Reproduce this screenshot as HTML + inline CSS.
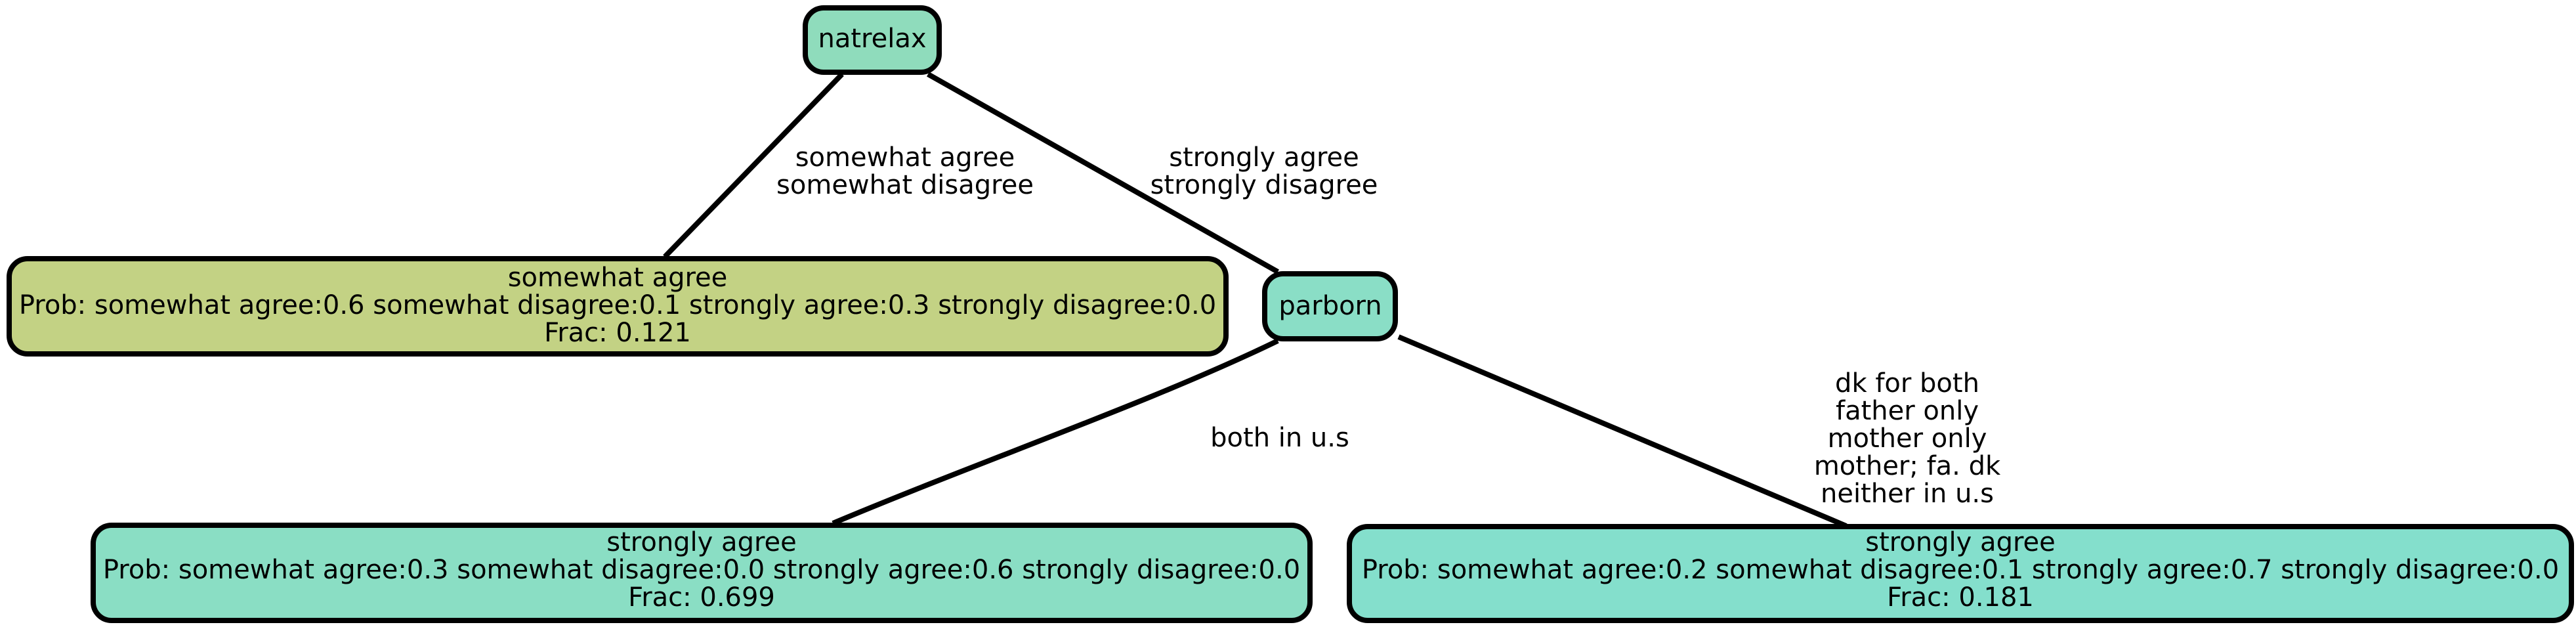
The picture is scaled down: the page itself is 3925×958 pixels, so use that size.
<!DOCTYPE html>
<html><head><meta charset="utf-8"><style>
html,body{margin:0;padding:0;background:#fff;}
svg{display:block;}
text{font-family:"DejaVu Sans","Liberation Sans",sans-serif;font-size:40px;fill:#000;text-anchor:middle;}
</style></head><body>
<svg width="3925" height="958" viewBox="0 0 3925 958" xmlns="http://www.w3.org/2000/svg">
<g stroke="#000" stroke-width="8" fill="none">
<path d="M1283,113 L1013,391"/>
<path d="M1414,113 L1947,414"/>
<path d="M1947,519 C1760,610 1500,700 1269,797"/>
<path d="M2131,513 L2813,801"/>
</g>
<g stroke="#000" stroke-width="8">
<rect x="1227" y="12" width="204" height="98" rx="28" fill="#8fdcbc"/>
<rect x="14" y="394" width="1854" height="145" rx="28" fill="#c3d284"/>
<rect x="1927" y="417" width="199" height="99" rx="28" fill="#8adec6"/>
<rect x="142" y="800" width="1854" height="145" rx="28" fill="#8adec4"/>
<rect x="2056" y="802" width="1862" height="143" rx="28" fill="#84dfcc"/>
</g>
<text x="1329" y="72">natrelax</text>
<text x="2027" y="479">parborn</text>
<text x="941" y="436">somewhat agree</text>
<text x="941" y="478">Prob: somewhat agree:0.6 somewhat disagree:0.1 strongly agree:0.3 strongly disagree:0.0</text>
<text x="941" y="520">Frac: 0.121</text>
<text x="1069" y="839">strongly agree</text>
<text x="1069" y="881">Prob: somewhat agree:0.3 somewhat disagree:0.0 strongly agree:0.6 strongly disagree:0.0</text>
<text x="1069" y="923">Frac: 0.699</text>
<text x="2987" y="839">strongly agree</text>
<text x="2987" y="881">Prob: somewhat agree:0.2 somewhat disagree:0.1 strongly agree:0.7 strongly disagree:0.0</text>
<text x="2987" y="923">Frac: 0.181</text>
<text x="1379" y="253">somewhat agree</text>
<text x="1379" y="295">somewhat disagree</text>
<text x="1926" y="253">strongly agree</text>
<text x="1926" y="295">strongly disagree</text>
<text x="1950" y="680">both in u.s</text>
<text x="2906" y="597">dk for both</text>
<text x="2906" y="639">father only</text>
<text x="2906" y="681">mother only</text>
<text x="2906" y="723">mother; fa. dk</text>
<text x="2906" y="765">neither in u.s</text>
</svg>
</body></html>
